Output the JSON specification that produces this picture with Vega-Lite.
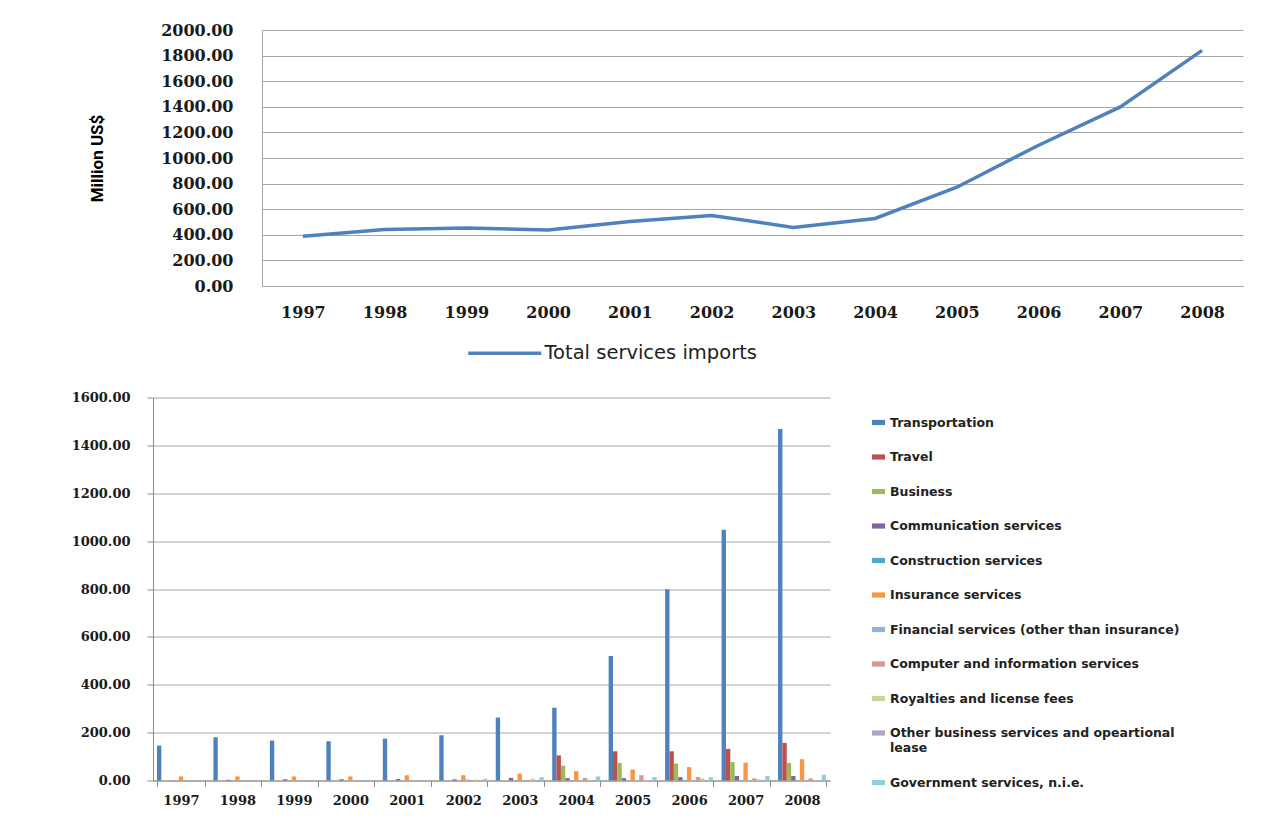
{
  "$schema": "https://vega.github.io/schema/vega-lite/v6.json",
  "background": "white",
  "padding": {"left": 71, "top": 22, "right": 5, "bottom": 5},
  "config": {"view": {"stroke": null}},
  "spacing": 27.5,
  "resolve": {"scale": {"color": "independent", "x": "independent", "y": "independent"}, "legend": {"color": "independent"}},
  "datasets": {
    "total": [
      {"Year": "1997", "Value": 389, "Series": "Total services imports"},
      {"Year": "1998", "Value": 441, "Series": "Total services imports"},
      {"Year": "1999", "Value": 454, "Series": "Total services imports"},
      {"Year": "2000", "Value": 438, "Series": "Total services imports"},
      {"Year": "2001", "Value": 504, "Series": "Total services imports"},
      {"Year": "2002", "Value": 551, "Series": "Total services imports"},
      {"Year": "2003", "Value": 458, "Series": "Total services imports"},
      {"Year": "2004", "Value": 528, "Series": "Total services imports"},
      {"Year": "2005", "Value": 772, "Series": "Total services imports"},
      {"Year": "2006", "Value": 1100, "Series": "Total services imports"},
      {"Year": "2007", "Value": 1399, "Series": "Total services imports"},
      {"Year": "2008", "Value": 1841, "Series": "Total services imports"}
    ],
    "parts": [
      {"Year": "1997", "Category": "Transportation", "Value": 146},
      {"Year": "1997", "Category": "Travel", "Value": 0},
      {"Year": "1997", "Category": "Business", "Value": 0},
      {"Year": "1997", "Category": "Communication services", "Value": 0},
      {"Year": "1997", "Category": "Construction services", "Value": 0},
      {"Year": "1997", "Category": "Insurance services", "Value": 17},
      {"Year": "1997", "Category": "Financial services (other than insurance)", "Value": 0},
      {"Year": "1997", "Category": "Computer and information services", "Value": 0},
      {"Year": "1997", "Category": "Royalties and license fees", "Value": 0},
      {"Year": "1997", "Category": "Other business services and opeartional lease", "Value": 0},
      {"Year": "1997", "Category": "Government services, n.i.e.", "Value": 0},
      {"Year": "1998", "Category": "Transportation", "Value": 181},
      {"Year": "1998", "Category": "Travel", "Value": 0},
      {"Year": "1998", "Category": "Business", "Value": 0},
      {"Year": "1998", "Category": "Communication services", "Value": 3},
      {"Year": "1998", "Category": "Construction services", "Value": 0},
      {"Year": "1998", "Category": "Insurance services", "Value": 17},
      {"Year": "1998", "Category": "Financial services (other than insurance)", "Value": 0},
      {"Year": "1998", "Category": "Computer and information services", "Value": 0},
      {"Year": "1998", "Category": "Royalties and license fees", "Value": 0},
      {"Year": "1998", "Category": "Other business services and opeartional lease", "Value": 0},
      {"Year": "1998", "Category": "Government services, n.i.e.", "Value": 0},
      {"Year": "1999", "Category": "Transportation", "Value": 167},
      {"Year": "1999", "Category": "Travel", "Value": 0},
      {"Year": "1999", "Category": "Business", "Value": 0},
      {"Year": "1999", "Category": "Communication services", "Value": 5},
      {"Year": "1999", "Category": "Construction services", "Value": 0},
      {"Year": "1999", "Category": "Insurance services", "Value": 17},
      {"Year": "1999", "Category": "Financial services (other than insurance)", "Value": 0},
      {"Year": "1999", "Category": "Computer and information services", "Value": 0},
      {"Year": "1999", "Category": "Royalties and license fees", "Value": 0},
      {"Year": "1999", "Category": "Other business services and opeartional lease", "Value": 0},
      {"Year": "1999", "Category": "Government services, n.i.e.", "Value": 0},
      {"Year": "2000", "Category": "Transportation", "Value": 164},
      {"Year": "2000", "Category": "Travel", "Value": 0},
      {"Year": "2000", "Category": "Business", "Value": 0},
      {"Year": "2000", "Category": "Communication services", "Value": 5},
      {"Year": "2000", "Category": "Construction services", "Value": 0},
      {"Year": "2000", "Category": "Insurance services", "Value": 17},
      {"Year": "2000", "Category": "Financial services (other than insurance)", "Value": 0},
      {"Year": "2000", "Category": "Computer and information services", "Value": 0},
      {"Year": "2000", "Category": "Royalties and license fees", "Value": 0},
      {"Year": "2000", "Category": "Other business services and opeartional lease", "Value": 0},
      {"Year": "2000", "Category": "Government services, n.i.e.", "Value": 0},
      {"Year": "2001", "Category": "Transportation", "Value": 175},
      {"Year": "2001", "Category": "Travel", "Value": 0},
      {"Year": "2001", "Category": "Business", "Value": 0},
      {"Year": "2001", "Category": "Communication services", "Value": 6},
      {"Year": "2001", "Category": "Construction services", "Value": 0},
      {"Year": "2001", "Category": "Insurance services", "Value": 22},
      {"Year": "2001", "Category": "Financial services (other than insurance)", "Value": 0},
      {"Year": "2001", "Category": "Computer and information services", "Value": 0},
      {"Year": "2001", "Category": "Royalties and license fees", "Value": 0},
      {"Year": "2001", "Category": "Other business services and opeartional lease", "Value": 0},
      {"Year": "2001", "Category": "Government services, n.i.e.", "Value": 0},
      {"Year": "2002", "Category": "Transportation", "Value": 189},
      {"Year": "2002", "Category": "Travel", "Value": 0},
      {"Year": "2002", "Category": "Business", "Value": 0},
      {"Year": "2002", "Category": "Communication services", "Value": 5},
      {"Year": "2002", "Category": "Construction services", "Value": 0},
      {"Year": "2002", "Category": "Insurance services", "Value": 22},
      {"Year": "2002", "Category": "Financial services (other than insurance)", "Value": 4},
      {"Year": "2002", "Category": "Computer and information services", "Value": 2},
      {"Year": "2002", "Category": "Royalties and license fees", "Value": 4},
      {"Year": "2002", "Category": "Other business services and opeartional lease", "Value": 1},
      {"Year": "2002", "Category": "Government services, n.i.e.", "Value": 7},
      {"Year": "2003", "Category": "Transportation", "Value": 263},
      {"Year": "2003", "Category": "Travel", "Value": 0},
      {"Year": "2003", "Category": "Business", "Value": 0},
      {"Year": "2003", "Category": "Communication services", "Value": 11},
      {"Year": "2003", "Category": "Construction services", "Value": 0},
      {"Year": "2003", "Category": "Insurance services", "Value": 29},
      {"Year": "2003", "Category": "Financial services (other than insurance)", "Value": 2},
      {"Year": "2003", "Category": "Computer and information services", "Value": 2},
      {"Year": "2003", "Category": "Royalties and license fees", "Value": 8},
      {"Year": "2003", "Category": "Other business services and opeartional lease", "Value": 1},
      {"Year": "2003", "Category": "Government services, n.i.e.", "Value": 14},
      {"Year": "2004", "Category": "Transportation", "Value": 304},
      {"Year": "2004", "Category": "Travel", "Value": 105},
      {"Year": "2004", "Category": "Business", "Value": 62},
      {"Year": "2004", "Category": "Communication services", "Value": 10},
      {"Year": "2004", "Category": "Construction services", "Value": 1},
      {"Year": "2004", "Category": "Insurance services", "Value": 39},
      {"Year": "2004", "Category": "Financial services (other than insurance)", "Value": 1},
      {"Year": "2004", "Category": "Computer and information services", "Value": 11},
      {"Year": "2004", "Category": "Royalties and license fees", "Value": 3},
      {"Year": "2004", "Category": "Other business services and opeartional lease", "Value": 1},
      {"Year": "2004", "Category": "Government services, n.i.e.", "Value": 17},
      {"Year": "2005", "Category": "Transportation", "Value": 520},
      {"Year": "2005", "Category": "Travel", "Value": 122},
      {"Year": "2005", "Category": "Business", "Value": 73},
      {"Year": "2005", "Category": "Communication services", "Value": 10},
      {"Year": "2005", "Category": "Construction services", "Value": 1},
      {"Year": "2005", "Category": "Insurance services", "Value": 46},
      {"Year": "2005", "Category": "Financial services (other than insurance)", "Value": 1},
      {"Year": "2005", "Category": "Computer and information services", "Value": 22},
      {"Year": "2005", "Category": "Royalties and license fees", "Value": 2},
      {"Year": "2005", "Category": "Other business services and opeartional lease", "Value": 1},
      {"Year": "2005", "Category": "Government services, n.i.e.", "Value": 14},
      {"Year": "2006", "Category": "Transportation", "Value": 799},
      {"Year": "2006", "Category": "Travel", "Value": 122},
      {"Year": "2006", "Category": "Business", "Value": 71},
      {"Year": "2006", "Category": "Communication services", "Value": 14},
      {"Year": "2006", "Category": "Construction services", "Value": 1},
      {"Year": "2006", "Category": "Insurance services", "Value": 56},
      {"Year": "2006", "Category": "Financial services (other than insurance)", "Value": 2},
      {"Year": "2006", "Category": "Computer and information services", "Value": 15},
      {"Year": "2006", "Category": "Royalties and license fees", "Value": 9},
      {"Year": "2006", "Category": "Other business services and opeartional lease", "Value": 1},
      {"Year": "2006", "Category": "Government services, n.i.e.", "Value": 14},
      {"Year": "2007", "Category": "Transportation", "Value": 1048},
      {"Year": "2007", "Category": "Travel", "Value": 132},
      {"Year": "2007", "Category": "Business", "Value": 77},
      {"Year": "2007", "Category": "Communication services", "Value": 19},
      {"Year": "2007", "Category": "Construction services", "Value": 1},
      {"Year": "2007", "Category": "Insurance services", "Value": 75},
      {"Year": "2007", "Category": "Financial services (other than insurance)", "Value": 2},
      {"Year": "2007", "Category": "Computer and information services", "Value": 9},
      {"Year": "2007", "Category": "Royalties and license fees", "Value": 5},
      {"Year": "2007", "Category": "Other business services and opeartional lease", "Value": 1},
      {"Year": "2007", "Category": "Government services, n.i.e.", "Value": 19},
      {"Year": "2008", "Category": "Transportation", "Value": 1468},
      {"Year": "2008", "Category": "Travel", "Value": 157},
      {"Year": "2008", "Category": "Business", "Value": 73},
      {"Year": "2008", "Category": "Communication services", "Value": 19},
      {"Year": "2008", "Category": "Construction services", "Value": 1},
      {"Year": "2008", "Category": "Insurance services", "Value": 89},
      {"Year": "2008", "Category": "Financial services (other than insurance)", "Value": 3},
      {"Year": "2008", "Category": "Computer and information services", "Value": 9},
      {"Year": "2008", "Category": "Royalties and license fees", "Value": 2},
      {"Year": "2008", "Category": "Other business services and opeartional lease", "Value": 1},
      {"Year": "2008", "Category": "Government services, n.i.e.", "Value": 24}
    ]
  },
  "vconcat": [
    {
      "width": 1090,
      "height": 256,
      "data": {"name": "total"},
      "mark": {"type": "line", "strokeWidth": 3.5, "color": "#4F81BD"},
      "encoding": {
        "x": {
          "field": "Year", "type": "ordinal",
          "scale": {"type": "point", "padding": 0.5, "range": [109, 1090]},
          "axis": {
            "title": null, "labelAngle": 0, "ticks": false, "domain": true, "domainColor": "#a6a6a6",
            "labelFont": "DejaVu Serif", "labelFontWeight": "bold", "labelFontSize": 16,
            "labelColor": "#1a1a1a", "labelPadding": 18
          }
        },
        "y": {
          "field": "Value", "type": "quantitative",
          "scale": {"domain": [0, 2000], "nice": false},
          "axis": {
            "values": [0, 200, 400, 600, 800, 1000, 1200, 1400, 1600, 1800, 2000],
            "format": ".2f", "offset": -109, "ticks": false,
            "domain": true, "domainColor": "#a6a6a6", "grid": true, "gridColor": "#a6a6a6",
            "labelFont": "DejaVu Serif", "labelFontWeight": "bold", "labelFontSize": 16,
            "labelColor": "#1a1a1a", "labelPadding": 29,
            "title": "Million US$", "titleFont": "Roboto",
            "titleFontSize": 17, "titleFontWeight": "bold", "titleColor": "#000", "titlePadding": 54
          }
        },
        "color": {
          "field": "Series", "type": "nominal",
          "scale": {"domain": ["Total services imports"], "range": ["#4F81BD"]},
          "legend": {
            "title": null, "orient": "none", "legendX": 342, "legendY": 313.5, "padding": 0,
            "symbolType": "M-5,0H5", "symbolSize": 213, "symbolStrokeWidth": 3.5,
            "labelOffset": 30, "labelFont": "DejaVu Sans", "labelFontSize": 19.5, "labelColor": "#222",
            "labelLimit": 500
          }
        }
      }
    },
    {
      "width": 677,
      "height": 383,
      "data": {"name": "parts"},
      "mark": {"type": "bar"},
      "encoding": {
        "x": {
          "field": "Year", "type": "ordinal",
          "scale": {"paddingInner": 0.15, "paddingOuter": 0.07},
          "axis": {
            "title": null, "labelAngle": 0, "tickBand": "extent", "ticks": true, "tickSize": 6,
            "tickColor": "#8c8c8c", "domainColor": "#8c8c8c",
            "labelFont": "DejaVu Serif", "labelFontWeight": "bold", "labelFontSize": 13,
            "labelColor": "#1a1a1a", "labelPadding": 8
          }
        },
        "xOffset": {
          "field": "Category", "type": "nominal",
          "sort": ["Transportation", "Travel", "Business", "Communication services", "Construction services", "Insurance services", "Financial services (other than insurance)", "Computer and information services", "Royalties and license fees", "Other business services and opeartional lease", "Government services, n.i.e."]
        },
        "y": {
          "field": "Value", "type": "quantitative",
          "scale": {"domain": [0, 1600], "nice": false},
          "axis": {
            "title": null, "values": [0, 200, 400, 600, 800, 1000, 1200, 1400, 1600],
            "format": ".2f", "ticks": true, "tickSize": 6, "tickColor": "#8c8c8c",
            "domain": true, "domainColor": "#8c8c8c", "grid": true, "gridColor": "#a6a6a6",
            "labelFont": "DejaVu Serif", "labelFontWeight": "bold", "labelFontSize": 13,
            "labelColor": "#1a1a1a", "labelPadding": 17
          }
        },
        "color": {
          "field": "Category", "type": "nominal",
          "scale": {
            "domain": ["Transportation", "Travel", "Business", "Communication services", "Construction services", "Insurance services", "Financial services (other than insurance)", "Computer and information services", "Royalties and license fees", "Other business services and opeartional lease", "Government services, n.i.e."],
            "range": ["#4F81BD", "#C0504D", "#9BBB59", "#8064A2", "#4BACC6", "#F79646", "#95B3D7", "#D99694", "#C3D69B", "#B3A2C7", "#93CDDD"]
          },
          "legend": {
            "title": null, "orient": "none", "direction": "vertical", "legendX": 719, "legendY": 18.5,
            "padding": 0, "rowPadding": 21.5,
            "symbolType": "M-1,-0.4H1V0.4H-1Z", "symbolSize": 169, "symbolStrokeWidth": 0,
            "labelOffset": 5, "labelFont": "DejaVu Sans", "labelFontWeight": "bold", "labelFontSize": 12.5,
            "labelColor": "#222", "labelLimit": 400,
            "labelExpr": "datum.label == 'Other business services and opeartional lease' ? ['Other business services and opeartional', 'lease'] : datum.label"
          }
        }
      }
    }
  ]
}
